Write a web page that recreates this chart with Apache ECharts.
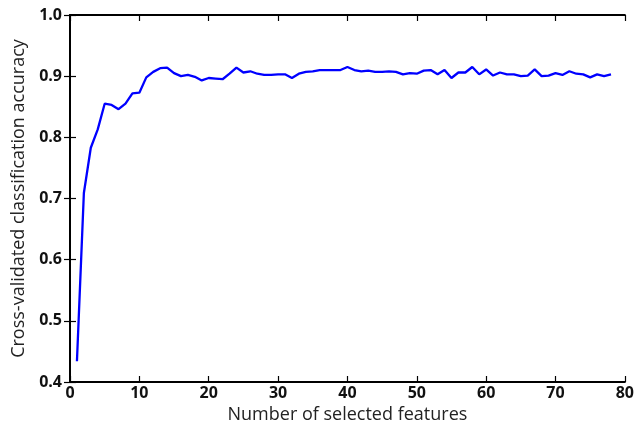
<!DOCTYPE html>
<html>
<head>
<meta charset="utf-8">
<script src="https://cdn.jsdelivr.net/npm/echarts@6/dist/echarts.min.js"></script>
<style>
  html, body { margin: 0; padding: 0; background: #fff; }
  #chart { width: 637px; height: 432px; }
</style>
</head>
<body>
<div id="chart"></div>
<script>
// number of selected features (1..78)
const featureCounts = [];
for (let i = 1; i <= 78; i++) featureCounts.push(i);

// cross-validated accuracy
const accuracy = [
  0.434, 0.709, 0.783, 0.813, 0.855, 0.853, 0.846, 0.855, 0.872, 0.873,
  0.898, 0.907, 0.913, 0.914, 0.905, 0.900, 0.902, 0.899, 0.893, 0.897,
  0.896, 0.895, 0.904, 0.914, 0.906, 0.908, 0.904, 0.902, 0.902, 0.903,
  0.903, 0.897, 0.904, 0.907, 0.908, 0.910, 0.910, 0.910, 0.910, 0.915,
  0.910, 0.908, 0.909, 0.907, 0.907, 0.908, 0.907, 0.903, 0.905, 0.904,
  0.909, 0.910, 0.903, 0.910, 0.897, 0.906, 0.906, 0.915, 0.903, 0.911,
  0.901, 0.906, 0.903, 0.903, 0.900, 0.901, 0.911, 0.900, 0.901, 0.905,
  0.902, 0.908, 0.904, 0.903, 0.898, 0.903, 0.900, 0.903
];

const xTicks = { min: 0, max: 80, interval: 10 };
const yTicks = { min: 0.4, max: 1.0, interval: 0.1 };

const chart = echarts.init(document.getElementById("chart"), null, { renderer: "canvas" });

const axisLine = { show: true, lineStyle: { color: "#000", width: 2 } };
const tick = { show: true, inside: true, length: 6, lineStyle: { color: "#000", width: 1.2 } };
const labelStyle = { color: "#111", fontSize: 16, fontWeight: "bold", fontFamily: "Open Sans" };
const titleStyle = { color: "#222", fontSize: 18, fontFamily: "Open Sans" };

chart.setOption({
  animation: false,
  backgroundColor: "#fff",
  grid: { left: 70, right: 10, top: 15, bottom: 50 },
  xAxis: [
    {
      type: "value",
      ...xTicks,
      position: "bottom",
      name: "Number of selected features",
      nameLocation: "middle",
      nameGap: 22,
      nameTextStyle: titleStyle,
      axisLine, axisTick: tick,
      axisLabel: { ...labelStyle, margin: 3 },
      splitLine: { show: false },
    },
    {
      type: "value",
      ...xTicks,
      position: "top",
      axisLine, axisTick: tick,
      axisLabel: { show: false },
      splitLine: { show: false },
    },
  ],
  yAxis: [
    {
      type: "value",
      ...yTicks,
      position: "left",
      name: "Cross-validated classification accuracy",
      nameLocation: "middle",
      nameGap: 40,
      nameTextStyle: titleStyle,
      axisLine, axisTick: tick,
      axisLabel: { ...labelStyle, margin: 8, formatter: (v) => v.toFixed(1) },
      splitLine: { show: false },
    },
    {
      type: "value",
      ...yTicks,
      position: "right",
      axisLine, axisTick: tick,
      axisLabel: { show: false },
      splitLine: { show: false },
    },
  ],
  series: [
    {
      type: "line",
      data: featureCounts.map((n, i) => [n, accuracy[i]]),
      showSymbol: false,
      lineStyle: { color: "#0000ff", width: 2.3 },
    },
  ],
});
</script>
</body>
</html>
